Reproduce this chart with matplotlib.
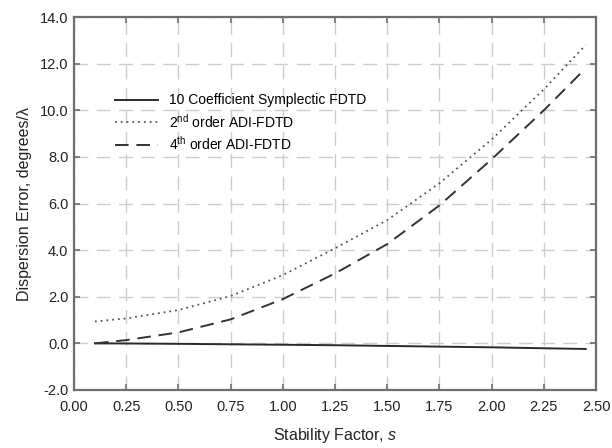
import matplotlib
matplotlib.use('Agg')
from matplotlib import pyplot
import matplotlib.ticker as ticker

pyplot.rcParams['font.family'] = ['Liberation Sans', 'DejaVu Sans']
pyplot.rcParams['mathtext.fontset'] = 'custom'
pyplot.rcParams['mathtext.rm'] = 'Liberation Sans'
pyplot.rcParams['mathtext.it'] = 'Liberation Sans:italic'

# values
s = [0.10, 0.25, 0.50, 0.75, 1.00, 1.25, 1.50, 1.75, 2.00, 2.25, 2.45]
symplectic = [0.0, -0.005, -0.02, -0.04, -0.06, -0.08, -0.11, -0.14, -0.17, -0.21, -0.24]
adi2 = [0.94, 1.07, 1.43, 2.03, 2.93, 4.08, 5.29, 6.87, 8.75, 10.9, 12.8]
adi4 = [0.0, 0.14, 0.47, 1.03, 1.90, 3.00, 4.26, 5.92, 7.90, 10.0, 11.8]

labels = ['10 Coefficient Symplectic FDTD',
          r'2$^{\rm nd}$ order ADI-FDTD',
          r'4$^{\rm th}$ order ADI-FDTD']

fig, ax = pyplot.subplots(figsize=(6.12, 4.48), dpi=100)
fig.subplots_adjust(left=0.121, right=0.974, bottom=0.1295, top=0.962)

ax.plot(s, symplectic, color='#2a2a2a', linewidth=1.4, linestyle='-', label=labels[0])
ax.plot(s, adi2, color='#555555', linewidth=1.3, linestyle=(0, (1, 2.2)), label=labels[1])
ax.plot(s, adi4, color='#333333', linewidth=1.4, linestyle=(0, (7, 4)), label=labels[2])

ax.set_xlim(0, 2.5)
ax.set_ylim(-2, 14)
ax.xaxis.set_major_locator(ticker.MultipleLocator(0.25))
ax.yaxis.set_major_locator(ticker.MultipleLocator(2))
ax.xaxis.set_major_formatter(ticker.FormatStrFormatter('%.2f'))
ax.yaxis.set_major_formatter(ticker.FormatStrFormatter('%.1f'))

ax.grid(which='major', color='#cccccc', linestyle=(0, (10, 6)), linewidth=1.0)
ax.set_axisbelow(True)

for sp in ax.spines.values():
    sp.set_color('#6e6e6e')
    sp.set_linewidth(1.6)

ax.tick_params(direction='in', length=4, width=1.2, color='#6e6e6e',
               top=True, right=True, labelsize=10.5, labelcolor='#222222')
ax.tick_params(axis='x', pad=7)
ax.tick_params(axis='y', pad=4)

ax.set_xlabel(r'Stability Factor, $s$', fontsize=11.5, color='#222222', labelpad=9)
ax.set_ylabel('Dispersion Error, degrees/λ', fontsize=11.5, color='#222222', labelpad=6)

ax.legend(loc='upper left', bbox_to_anchor=(0.0785, 0.795), frameon=False,
          fontsize=10, handlelength=3.1, handletextpad=0.75, labelspacing=0.35,
          borderpad=0, borderaxespad=0)

fig.savefig('out.png')
